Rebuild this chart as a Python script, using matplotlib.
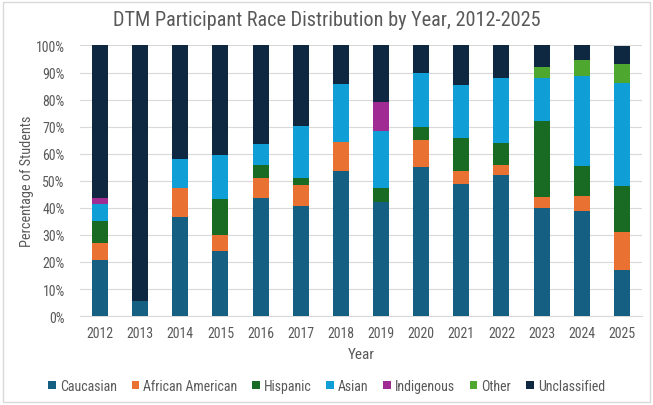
import matplotlib
matplotlib.use('Agg')
import matplotlib.pyplot as plt
from matplotlib.patches import Rectangle
from matplotlib.ticker import PercentFormatter
import numpy as np

plt.rcParams['font.family'] = ['Roboto Condensed', 'Liberation Sans Narrow', 'Liberation Sans', 'DejaVu Sans']

# ---- data (percent of students per year) ----
years = ['2012', '2013', '2014', '2015', '2016', '2017', '2018', '2019',
         '2020', '2021', '2022', '2023', '2024', '2025']
caucasian = [20.7, 5.6, 36.7, 24.2, 43.8, 40.5, 53.6, 42.1, 55.0, 48.8, 52.0, 40.0, 38.9, 17.2]
african_american = [6.2, 0, 10.7, 5.6, 7.4, 8.1, 10.7, 0, 10.0, 4.9, 4.0, 4.0, 5.6, 13.8]
hispanic = [8.4, 0, 0, 13.4, 4.8, 2.6, 0, 5.3, 5.0, 12.2, 8.0, 28.0, 11.1, 17.2]
asian = [6.3, 0, 10.5, 16.3, 7.5, 19.2, 21.4, 21.1, 20.0, 19.5, 24.0, 16.0, 33.3, 37.9]
indigenous = [2.2, 0, 0, 0, 0, 0, 0, 10.5, 0, 0, 0, 0, 0, 0]
other = [0, 0, 0, 0, 0, 0, 0, 0, 0, 0, 0, 4.0, 5.6, 6.9]
unclassified = [56.2, 94.4, 42.1, 40.5, 36.5, 29.6, 14.3, 21.1, 10.0, 14.6, 12.0, 8.0, 5.6, 6.9]

series = [
    ('Caucasian', caucasian, '#156082'),
    ('African American', african_american, '#E97132'),
    ('Hispanic', hispanic, '#196B24'),
    ('Asian', asian, '#0F9ED5'),
    ('Indigenous', indigenous, '#A02B93'),
    ('Other', other, '#4EA72E'),
    ('Unclassified', unclassified, '#0E2841'),
]

TEXT = '#595959'
GRID = '#D9D9D9'

fig = plt.figure(figsize=(6.53, 4.06), dpi=100)
ax = fig.add_axes([0.1225, 0.219, 0.8605, 0.6665])

x = np.arange(len(years))
bottom = np.zeros(len(years))
for name, vals, color in series:
    vals = np.array(vals, dtype=float)
    ax.bar(x, vals, 0.4, bottom=bottom, color=color, label=name, zorder=3)
    bottom += vals

ax.set_xlim(-0.5, len(years) - 0.5)
ax.set_ylim(0, 100)
ax.set_yticks(np.arange(0, 101, 10))
ax.yaxis.set_major_formatter(PercentFormatter(decimals=0))
ax.set_xticks(x)
ax.set_xticklabels(years)
ax.tick_params(length=0, labelsize=10, colors=TEXT)
ax.tick_params(axis='x', pad=7)
ax.tick_params(axis='y', pad=11)
ax.grid(axis='y', color=GRID, lw=0.8, zorder=0)
for s in ['top', 'right', 'left']:
    ax.spines[s].set_visible(False)
ax.spines['bottom'].set_color(GRID)
ax.spines['bottom'].set_linewidth(0.8)

ax.set_xlabel('Year', fontsize=11, color=TEXT, labelpad=5)
ax.set_ylabel('Percentage of Students', fontsize=10.3, color=TEXT, labelpad=1)
fig.text(0.5, 0.95, 'DTM Participant Race Distribution by Year, 2012-2025',
         ha='center', va='center', fontsize=14.6, color=TEXT)

handles, labels = ax.get_legend_handles_labels()
fig.legend(handles, labels, loc='center', bbox_to_anchor=(0.5, 0.047), ncol=7,
           frameon=False, fontsize=10, handlelength=0.55, handleheight=0.55,
           handletextpad=0.3, columnspacing=1.05, labelcolor=TEXT)

# light border around the chart
fig.patches.append(Rectangle((0.005, 0.007), 0.99, 0.986, transform=fig.transFigure,
                             fill=False, edgecolor='#D9D9D9', lw=1))

plt.savefig('out.png', dpi=100)
